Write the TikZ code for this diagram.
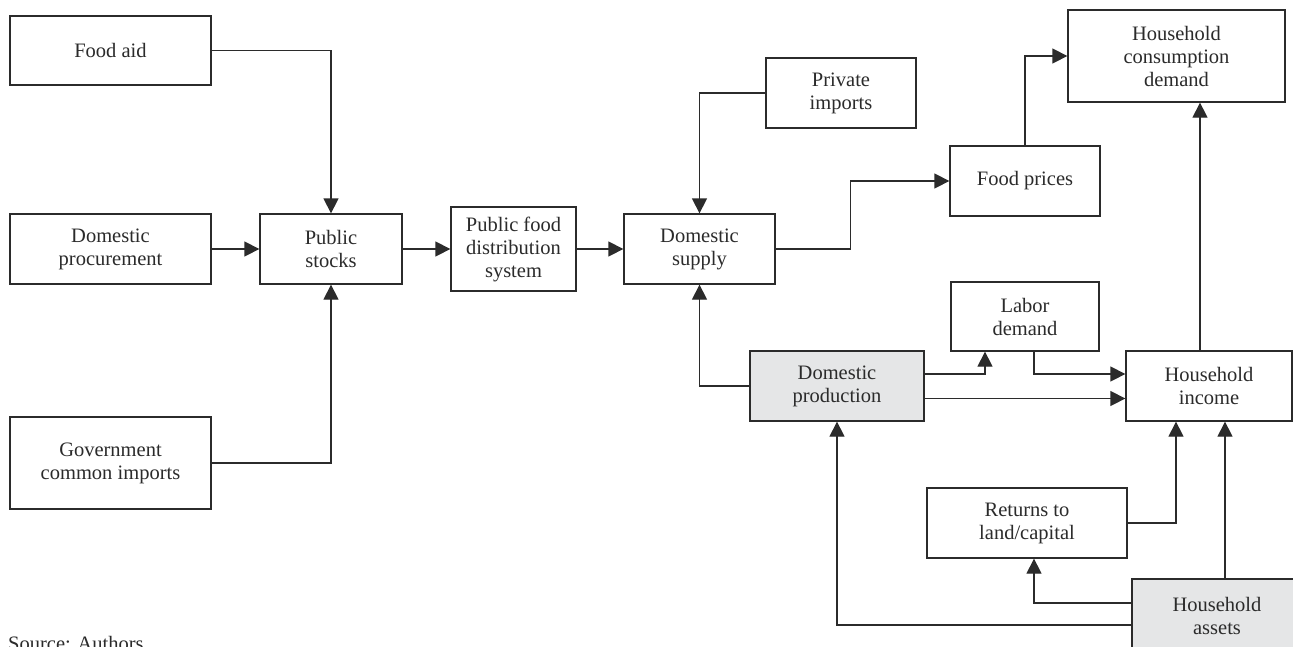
\documentclass[tikz,border=0pt]{standalone}
\usepackage{fontspec}
\setmainfont{Liberation Serif}
\usetikzlibrary{arrows.meta}
\definecolor{ink}{HTML}{2B2B2B}
\definecolor{shade}{HTML}{E5E6E7}
\tikzset{
  box/.style={draw=ink, line width=1.3pt, fill=white, align=center, inner sep=0pt,
    font=\fontsize{20.5}{23}\selectfont, text=ink},
  shadedbox/.style={box, fill=shade},
  arr/.style={draw=ink, line width=1.3pt, -{Triangle[length=15pt,width=15pt]}},
}
\begin{document}
\begin{tikzpicture}[x=1pt,y=-1pt]
\useasboundingbox (0,0) rectangle (1293,646);
\clip (0,0) rectangle (1293,646);
\fill[white] (0,0) rectangle (1293,646);
% nodes
\node[box, minimum width=201pt, minimum height=69pt] (fa) at (110.5,50.5) {Food aid};
\node[box, minimum width=201pt, minimum height=70pt] (proc) at (110.5,249) {Domestic\\procurement};
\node[box, minimum width=201pt, minimum height=92pt] (gci) at (110.5,463) {Government\\common imports};
\node[box, minimum width=142pt, minimum height=70pt] (ps) at (331,249) {Public\\stocks};
\node[box, minimum width=125pt, minimum height=84pt] (pfds) at (513.5,249) {Public food\\distribution\\system};
\node[box, minimum width=151pt, minimum height=70pt] (ds) at (699.5,249) {Domestic\\supply};
\node[box, minimum width=150pt, minimum height=70pt] (pi) at (841,93) {Private\\imports};
\node[box, minimum width=150pt, minimum height=70pt] (fp) at (1025,181) {Food prices};
\node[box, minimum width=217pt, minimum height=92pt] (hcd) at (1176.5,56) {Household\\consumption\\demand};
\node[box, minimum width=148pt, minimum height=69pt] (ld) at (1025,316.5) {Labor\\demand};
\node[shadedbox, minimum width=174pt, minimum height=70pt] (dprod) at (837,386) {Domestic\\production};
\node[box, minimum width=166pt, minimum height=70pt] (hi) at (1209,386) {Household\\income};
\node[box, minimum width=200pt, minimum height=70pt] (rlc) at (1027,523) {Returns to\\land/capital};
\node[shadedbox, minimum width=170pt, minimum height=74pt] (ha) at (1217,616) {Household\\assets};
\node[anchor=base west, inner sep=0pt, text=ink, font=\fontsize{20.5}{23}\selectfont] (src) at (8,650) {Source: Authors};
% connectors
\draw[arr] (fa.east) -| (ps.north);
\draw[arr] (proc.east) -- (ps.west);
\draw[arr] (gci.east) -| (ps.south);
\draw[arr] (ps.east) -- (pfds.west);
\draw[arr] (pfds.east) -- (ds.west);
\draw[arr] (pi.west) -| (ds.north);
\draw[arr] (ds.east) -- ++(75,0) |- (fp.west);
\draw[arr] (fp.north) |- (hcd.west);
\draw[arr] ([xshift=-9pt]hi.north) -- ([xshift=-9pt]hi.north |- hcd.south);
\draw[arr] (dprod.west) -| (ds.south);
\draw[arr] ([yshift=12pt]dprod.east) -| ([xshift=-40pt]ld.south);
\draw[arr] ([xshift=9pt]ld.south) |- ([yshift=12pt]hi.west);
\draw[arr] ([yshift=-12.5pt]dprod.east) -- ([yshift=-12.5pt]hi.west);
\draw[arr] (rlc.east) -| ([xshift=-33pt]hi.south);
\draw[arr] ([xshift=8pt]ha.north) -- ([xshift=8pt]ha.north |- hi.south);
\draw[arr] ([yshift=13pt]ha.west) -| ([xshift=7pt]rlc.south);
\draw[arr] ([yshift=-9pt]ha.west) -| (dprod.south);
\end{tikzpicture}
\end{document}
